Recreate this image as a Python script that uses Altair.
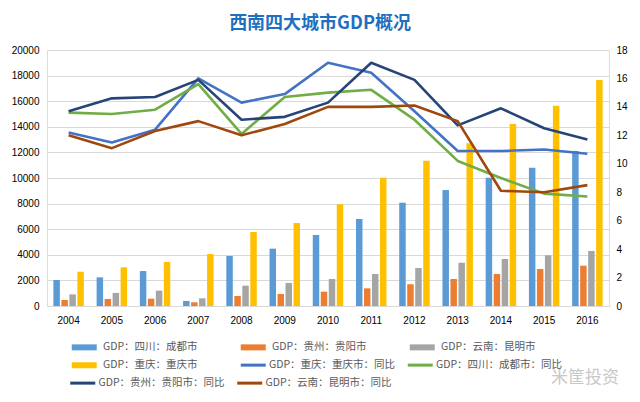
import altair as alt
import pandas as pd

years = ["2004", "2005", "2006", "2007", "2008", "2009", "2010",
         "2011", "2012", "2013", "2014", "2015", "2016"]

bar_series = ["GDP：四川：成都市", "GDP：贵州：贵阳市", "GDP：云南：昆明市", "GDP：重庆：重庆市"]
bar_colors = ["#5B9BD5", "#ED7D31", "#A5A5A5", "#FFC000"]
chengdu_gdp = [2030, 2240, 2730, 390, 3910, 4480, 5550, 6800, 8070, 9060, 10020, 10800, 12110]
guiyang_gdp = [470, 550, 570, 290, 780, 940, 1120, 1380, 1700, 2110, 2500, 2890, 3150]
kunming_gdp = [910, 1020, 1200, 600, 1590, 1800, 2110, 2500, 2970, 3380, 3670, 3960, 4300]
chongqing_gdp = [2680, 3020, 3440, 4060, 5780, 6480, 7950, 10020, 11350, 12710, 14220, 15650, 17660]

line_series_a = ["GDP：重庆：重庆市：同比", "GDP：四川：成都市：同比"]
line_colors_a = ["#4472C4", "#70AD47"]
line_series_b = ["GDP：贵州：贵阳市：同比", "GDP：云南：昆明市：同比"]
line_colors_b = ["#264478", "#9E480E"]
chongqing_yoy = [12.2, 11.5, 12.4, 16.0, 14.3, 14.9, 17.1, 16.4, 13.7, 10.9, 10.9, 11.0, 10.7]
chengdu_yoy = [13.6, 13.5, 13.8, 15.6, 12.1, 14.7, 15.0, 15.2, 13.1, 10.2, 9.0, 7.9, 7.7]
guiyang_yoy = [13.7, 14.6, 14.7, 15.9, 13.1, 13.3, 14.3, 17.1, 15.9, 12.7, 13.9, 12.5, 11.7]
kunming_yoy = [12.0, 11.1, 12.3, 13.0, 12.0, 12.8, 14.0, 14.0, 14.1, 13.0, 8.1, 8.0, 8.5]

left_ticks = list(range(0, 20001, 2000))
right_ticks = list(range(0, 19, 2))

title_text = "西南四大城市GDP概况"
watermark_text = "米筐投资"

FONT = "Noto Sans CJK SC"
TXT = "#595959"


def long_frame(names, arrays):
    rows = []
    for name, arr in zip(names, arrays):
        for y, v in zip(years, arr):
            rows.append({"year": y, "series": name, "value": v})
    return pd.DataFrame(rows)


bars_df = long_frame(bar_series, [chengdu_gdp, guiyang_gdp, kunming_gdp, chongqing_gdp])
lines_a_df = long_frame(line_series_a, [chongqing_yoy, chengdu_yoy])
lines_b_df = long_frame(line_series_b, [guiyang_yoy, kunming_yoy])

x_axis = alt.Axis(title=None, labelAngle=0, ticks=False, domainColor="#D9D9D9",
                  labelPadding=9, grid=False)
x_scale = alt.Scale(paddingInner=0.26, paddingOuter=0.13)

BAR_SYMBOL = "M-1,-1L7.333,-1L7.333,1L-1,1Z"
LINE_SYMBOL = "M-1,0L7.333,0"

legend_common = dict(title=None, orient="none", direction="horizontal", gridAlign="all",
                     labelFont=FONT, labelFontSize=10.5, labelColor=TXT,
                     symbolSize=36, rowPadding=7, padding=0)

bars = alt.Chart(bars_df).mark_bar().encode(
    x=alt.X("year:N", scale=x_scale, axis=x_axis, sort=years),
    xOffset=alt.XOffset("series:N", sort=bar_series,
                        scale=alt.Scale(paddingInner=0.19, paddingOuter=0.095)),
    y=alt.Y("value:Q", scale=alt.Scale(domain=[0, 20000], nice=False),
            axis=alt.Axis(title=None, values=left_ticks, format="d", grid=True,
                          gridColor="#D9D9D9", domain=False, ticks=False, labelPadding=8)),
    color=alt.Color("series:N", sort=bar_series,
                    scale=alt.Scale(domain=bar_series, range=bar_colors),
                    legend=alt.Legend(**legend_common, columns=3, values=bar_series,
                                      legendX=22.5, legendY=292, columnPadding=40,
                                      labelOffset=23,
                                      symbolType=BAR_SYMBOL, symbolStrokeWidth=0)),
)

lines_a = alt.Chart(lines_a_df).mark_line(strokeWidth=2.6, strokeJoin="round").encode(
    x=alt.X("year:N", scale=x_scale, axis=x_axis, sort=years),
    y=alt.Y("value:Q", scale=alt.Scale(domain=[0, 18], nice=False),
            axis=alt.Axis(title=None, orient="right", values=right_ticks, grid=False,
                          domain=False, ticks=False, labelPadding=7)),
    color=alt.Color("series:N", scale=alt.Scale(domain=line_series_a, range=line_colors_a),
                    legend=alt.Legend(**legend_common, columns=2, legendX=191.5,
                                      legendY=309.5, columnPadding=6, labelOffset=20,
                                      symbolType=LINE_SYMBOL, symbolStrokeWidth=3)),
)

lines_b = alt.Chart(lines_b_df).mark_line(strokeWidth=2.6, strokeJoin="round").encode(
    x=alt.X("year:N", scale=x_scale, axis=x_axis, sort=years),
    y=alt.Y("value:Q", scale=alt.Scale(domain=[0, 18], nice=False), axis=None),
    color=alt.Color("series:N", scale=alt.Scale(domain=line_series_b, range=line_colors_b),
                    legend=alt.Legend(**legend_common, columns=2, legendX=21,
                                      legendY=327.5, columnPadding=6, labelOffset=20,
                                      symbolType=LINE_SYMBOL, symbolStrokeWidth=3)),
)

watermark = alt.Chart(alt.Data(values=[{"t": watermark_text}])).mark_text(
    font=FONT, fontSize=17, color="#C8C8C8", align="center", baseline="middle"
).encode(x=alt.value(538), y=alt.value(328), text="t:N")

chart = alt.layer(bars, lines_a, lines_b, watermark).resolve_scale(
    y="independent", color="independent"
).properties(
    width=562, height=256,
    title=alt.TitleParams(title_text, font=FONT, fontSize=18, fontWeight="bold",
                          color="#1F6FC0", anchor="middle", frame="group", dx=-8,
                          offset=12),
    autosize=alt.AutoSizeParams(type="none"),
    padding={"left": 39, "top": 42, "right": 23, "bottom": 88},
).configure_view(stroke=None).configure_axis(
    labelFont=FONT, labelFontSize=11, labelColor=TXT
).configure(background="white")

chart.save("out.html", embed_options={"renderer": "svg", "actions": False})
